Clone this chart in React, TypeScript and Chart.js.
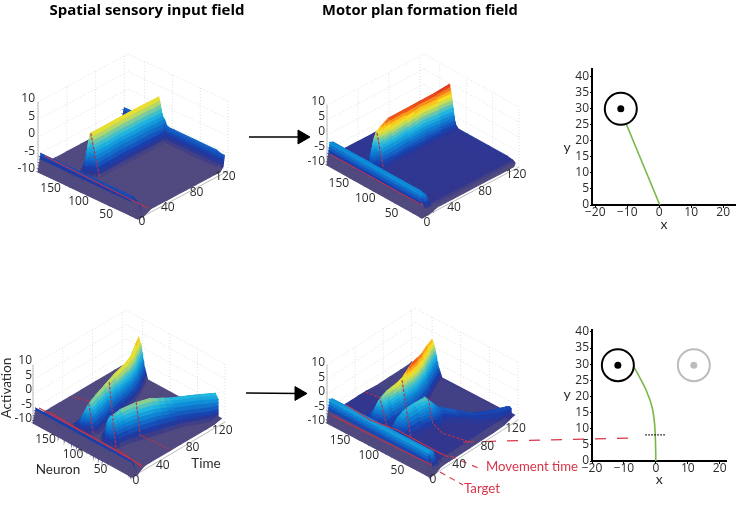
import React, { useEffect, useRef } from "react";
import { Chart, registerables } from "chart.js";

Chart.register(...registerables);

const FONT = '"Open Sans", sans-serif';
const LABEL_FONT = 'Lato, "Open Sans", sans-serif';

// ---- 3D surface data: activation by time (rows) and neuron (columns) ----
const input1Neurons = [0, 5, 15, 50, 90, 100, 104, 108, 112, 116, 120, 125, 130, 180];
const input1Times = [0, 4, 8, 18, 24, 40, 60, 80, 100, 110, 114, 118, 120];
const input1Activation = [
  [-10, -10, -10, -10, -10, -10, -10, -10, -10, -10, -10, -10, -10, -10],
  [-10, -6, -5.2, -5.2, -5.2, -5.2, -5.2, -5.2, -5.2, -5.2, -5.2, -5.2, -5.2, -5.2],
  [-10, -9, -8.5, -8.5, -8.5, -8.5, -8.5, -8.5, -8.5, -8.5, -8.5, -8.5, -8.5, -8.5],
  [-9, -8.6, -8.6, -8.6, -8.6, -8.6, -8.5, -8, -7.5, -7, -7.5, -8, -8.6, -8.6],
  [-9, -8.6, -8.6, -8.6, -8.6, -8.6, -7, -4, 0, 3.2, 0, -5, -8.5, -8.6],
  [-9, -8.6, -8.6, -8.6, -8.6, -8.6, -7, -4, 0, 3.2, 0, -5, -8.5, -8.6],
  [-9, -8.6, -8.6, -8.6, -8.6, -8.6, -6.8, -3.6, 0.3, 3.3, 0.2, -5, -8.5, -8.6],
  [-9, -8.6, -8.6, -8.6, -8.6, -8.6, -6.8, -3.8, 0.2, 3.3, 0.2, -5, -8.5, -8.6],
  [-9, -8.6, -8.6, -8.6, -8.6, -8.6, -6.9, -3.8, 0.2, 3.3, 0.2, -5, -8.5, -8.6],
  [-9, -8.6, -8.6, -8.6, -8.6, -8.6, -7, -4, 0, 3.2, 0, -5, -8.5, -8.6],
  [-9, -8.4, -8.4, -8.4, -8.4, -8.4, -6.8, -4, 0, 3.2, 0, -5, -8.3, -8.4],
  [-8, -7, -7, -7, -7, -7, -6.5, -4, 0, 3.2, 0, -5, -7, -7],
  [-5, -5, -4.5, -4.5, -4.5, -4.5, -4.2, -3, -2, -1, -2, -3.5, -4.5, -4.8],
];

const motor1Neurons = [0, 5, 15, 50, 90, 108, 112, 115, 118, 122, 126, 130, 136, 180];
const motor1Times = [0, 4, 8, 14, 20, 24, 30, 40, 60, 80, 100, 118, 120];
const motor1Activation = [
  [-10, -10, -10, -10, -10, -10, -10, -10, -10, -10, -10, -10, -10, -10],
  [-10, -3.5, -3, -3, -3, -3, -3, -3, -3, -3, -3, -3, -3, -3],
  [-10, -4, -3.5, -3.5, -3.5, -3.5, -3.5, -3.5, -3.5, -3.5, -3.5, -3.5, -3.5, -3.5],
  [-9.5, -8, -7.6, -7.6, -7.6, -7.6, -7.6, -7.6, -7.6, -7.6, -7.6, -7.6, -7.6, -7.6],
  [-9, -7.8, -7.6, -7.6, -7.6, -7.6, -7.2, -6.5, -5, -3, -5, -7, -7.6, -7.6],
  [-9, -7.8, -7.6, -7.6, -7.6, -7.5, -5.5, -2.5, 0.5, 3, 0.5, -3.5, -7.5, -7.6],
  [-9, -7.8, -7.6, -7.6, -7.6, -7.5, -5.5, -2, 1.5, 4.5, 1, -3.5, -7.5, -7.6],
  [-9, -7.8, -7.6, -7.6, -7.6, -7.5, -5.5, -2, 2, 5.8, 2, -3, -7.5, -7.6],
  [-9, -7.8, -7.6, -7.6, -7.6, -7.5, -5, -1.5, 2.5, 5.9, 2.2, -3, -7.5, -7.6],
  [-9, -7.8, -7.6, -7.6, -7.6, -7.5, -5, -1, 3.5, 6, 2.5, -2.5, -7.5, -7.6],
  [-9, -7.8, -7.6, -7.6, -7.6, -7.5, -5.5, -1.5, 3, 6.1, 2.5, -2.5, -7.5, -7.6],
  [-9, -7.8, -7.5, -7.5, -7.5, -7.5, -6, -2, 2.5, 6.4, 3, -2, -7, -7.5],
  [-8, -7.5, -7.2, -7.2, -7.2, -7.2, -6.5, -5, -2, 1, -2, -5, -7, -7.2],
];

// Two-target fields: the ridges drift in neuron space, so each row has its own ridge crest.
const edgeNeurons = [0, 6];
const ridgeSideB = [-22, -12, -5, 0, 4, 9, 16];
const ridgeSideA = [-16, -9, -4, 0, 5, 13, 24];

const input2Times = [0, 4, 8, 14, 18, 24, 35, 50, 65, 85, 100, 110, 120];
const input2CrestB = [66, 66, 66, 66, 66, 72, 69, 62, 55, 47, 35, 25, 11];
const input2CrestA = [110, 110, 110, 110, 110, 108, 112, 117, 121, 126, 134, 142, 150];
const input2Activation = [
  [-10, -10, -10, -10, -10, -10, -10, -10, -10, -10, -10, -10, -10, -10, -10, -10, -10],
  [-10, -5.6, -5.6, -5.6, -5.6, -5.6, -5.6, -5.6, -5.6, -5.6, -5.6, -5.6, -5.6, -5.6, -5.6, -5.6, -5.6],
  [-10, -8.8, -8.8, -8.8, -8.8, -8.8, -8.8, -8.8, -8.8, -8.8, -8.8, -8.8, -8.8, -8.8, -8.8, -8.8, -8.8],
  [-9, -8.5, -8.5, -8.5, -8.5, -8.5, -8.5, -8.5, -8.5, -8.5, -8.5, -8.5, -8.5, -8.5, -8.5, -8.5, -8.5],
  [-8.6, -8.5, -8.5, -7.3, -5.7, -5, -5.7, -7.3, -8.5, -8.5, -6.6, -4.1, -3, -4.1, -6.6, -8.5, -8.5],
  [-8.6, -8.5, -8.5, -5.7, -2.1, -0.5, -2.1, -5.7, -8.5, -8.5, -5.2, -0.9, 1, -0.9, -5.2, -8.5, -8.5],
  [-8.6, -8.5, -8.5, -5.3, -1.1, 0.7, -1.1, -5.3, -8.5, -8.5, -5, -0.5, 1.5, -0.5, -5, -8.5, -8.5],
  [-8.6, -8.5, -8.5, -5, -0.5, 1.5, -0.5, -5, -8.5, -8.5, -4.8, -0.1, 2, -0.1, -4.8, -8.5, -8.5],
  [-8.6, -8.5, -8.5, -5, -0.5, 1.5, -0.5, -5, -8.5, -8.5, -4.5, 0.5, 2.8, 0.5, -4.5, -8.5, -8.5],
  [-8.6, -8.5, -8.5, -5.7, -2.2, -0.6, -2.2, -5.7, -8.5, -8.5, -4.3, 1, 3.4, 1, -4.3, -8.5, -8.5],
  [-8.6, -8.5, -8.5, -5.8, -2.4, -0.9, -2.4, -5.8, -8.5, -8.5, -4.3, 1, 3.4, 1, -4.3, -8.5, -8.5],
  [-8.6, -8.5, -8.5, -5.8, -2.4, -0.9, -2.4, -5.8, -8.5, -8.5, -4.2, 1.3, 3.8, 1.3, -4.2, -8.5, -8.5],
  [-8, -8, -8, -5.7, -2.1, -0.5, -2.1, -5.7, -8.5, -8.5, -4, 1.7, 4.3, 1.7, -4, -8.5, -8.5],
];

const motor2Times = [0, 4, 8, 14, 20, 27, 35, 45, 56, 70, 90, 105, 118, 120];
const motor2CrestB = [88, 88, 88, 88, 88, 86, 86, 84, 78, 73, 36, 20, 10, 8];
const motor2CrestA = [122, 122, 122, 122, 122, 118, 118, 115, 116, 118, 126, 135, 142, 143];
const motor2Activation = [
  [-10, -10, -10, -10, -10, -10, -10, -10, -10, -10, -10, -10, -10, -10, -10, -10, -10],
  [-10, -2.5, -2.5, -2.5, -2.5, -2.5, -2.5, -2.5, -2.5, -2.5, -2.5, -2.5, -2.5, -2.5, -2.5, -2.5, -2.5],
  [-10, -3, -3, -3, -3, -3, -3, -3, -3, -3, -3, -3, -3, -3, -3, -3, -3],
  [-9, -7.7, -7.7, -7.7, -7.7, -7.7, -7.7, -7.7, -7.7, -7.7, -7.7, -7.7, -7.7, -7.7, -7.7, -7.7, -7.7],
  [-8.8, -7.7, -7.7, -7.3, -6.4, -6, -6.4, -7.3, -7.7, -7.7, -7.3, -6.4, -6, -6.4, -7.3, -7.7, -7.7],
  [-8.8, -7.7, -7.7, -5.9, -3.2, -2, -3.2, -5.9, -7.7, -7.7, -4.85, -0.8, 1, -0.8, -4.85, -7.7, -7.7],
  [-8.8, -7.7, -7.7, -5.55, -2.4, -1, -2.4, -5.55, -7.7, -7.7, -4.5, 0, 2, 0, -4.5, -7.7, -7.7],
  [-8.8, -7.7, -7.7, -5.4, -2, -0.5, -2, -5.4, -7.7, -7.7, -4.15, 0.8, 3, 0.8, -4.15, -7.7, -7.7],
  [-8.8, -7.7, -7.7, -5, -1.2, 0.5, -1.2, -5, -7.7, -7.8, -3.9, 1.3, 3.6, 1.3, -3.9, -7.8, -7.8],
  [-8.8, -7.7, -7.7, -6.7, -5.1, -4.4, -5.1, -6.7, -7.9, -8.2, -3.1, 3.2, 6, 3.2, -3.1, -8.2, -8.2],
  [-8.8, -7.7, -7.7, -7.3, -6.4, -6, -6.4, -7.3, -8, -8.2, -3.45, 2.4, 5, 2.4, -3.45, -8.2, -8.2],
  [-8.6, -7.9, -7.9, -7.2, -6.2, -5.8, -6.2, -7.2, -8, -8.2, -3.6, 2, 4.5, 2, -3.6, -8.2, -8.2],
  [-7.5, -7.5, -7.5, -7.1, -6, -5.5, -6, -7.1, -8, -8.2, -3.8, 1.6, 4, 1.6, -3.8, -8.2, -8.2],
  [-7.5, -7.5, -7.5, -7.1, -6, -5.5, -6, -7.1, -7.8, -7.8, -4.2, 0.8, 3, 0.8, -4.2, -7.8, -7.8],
];

// Red slice traces, as [neuron, time, activation]
type P3 = [number, number, number];
const input1Curtain: P3[] = [[175, 5, -5.5], [0, 14, -8.5]];
const input1Slice: P3[] = [[116, 24, 3.2], [100, 24, -8.5]];
const motor1Curtain: P3[] = [[177, 2.5, -6.5], [3, 3, -6.5]];
const motor1Slice: P3[] = [[122, 25, 3], [110, 25, -7.6]];
const input2Lines: P3[][] = [
  [[175, 4.5, -5], [17, 14, -8], [0, 13, -8.5]],
  [[172, 17, -8], [115, 15, -8], [0, 13, -8]],
  [[174, 50, -8], [102, 17, 3], [95, 18, -8]],
  [[120, 58, 1.5], [52, 17, -8], [0, 12, -8]],
  [[60, 50, 2], [50, 48, -8], [0, 50, -8]],
];
const motor2Lines: P3[][] = [
  [[174, 2, -7], [3, 5, -7]],
  [[180, 27, -8], [134, 24, -8], [93, 29, -8], [22, 28, -8], [4, 29, -8]],
  [[180, 55, -8], [121, 27, 0.5], [110, 28, -8]],
  [[108, 48, 4.7], [68, 28, -8]],
  [[72, 56, 0.9], [69, 60, -8], [45, 54, -8], [9, 60, -8]],
];

const neuronTicks = [150, 100, 50];
const timeTicks = [0, 40, 80, 120];
const activationTicks = [-10, -5, 0, 5, 10];
const wallNeurons = [0, 50, 100, 150];

// ---- Right-hand trajectory plots ----
const straightX = [-10.2, 0.2];
const straightY = [25, 0];
const curveX = [0, -0.1, -0.4, -1.2, -2.8, -4.9, -6.9];
const curveY = [0, 5.4, 11.6, 16.8, 21.4, 25.6, 29.2];
const xTickValues = [-20, -10, 0, 10, 20];
const yTickValues = [0, 5, 10, 15, 20, 25, 30, 35, 40];

const NMAX = 180;
const TMAX = 125;

const COLOR_STOPS: [number, number, number, number][] = [
  [-10, 79, 74, 125], [-8.4, 80, 74, 128], [-7.7, 50, 54, 142], [-6.5, 25, 60, 170],
  [-5, 20, 95, 195], [-3, 15, 140, 215], [-1, 35, 185, 225], [0.5, 110, 200, 170],
  [2, 200, 220, 85], [3.2, 250, 225, 30], [4.5, 250, 150, 30], [5.5, 235, 80, 30], [6.5, 205, 30, 35],
];

function colorOf(z: number) {
  const s = COLOR_STOPS;
  if (z <= s[0][0]) return `rgb(${s[0][1]},${s[0][2]},${s[0][3]})`;
  for (let i = 1; i < s.length; i++) {
    if (z <= s[i][0]) {
      const f = (z - s[i - 1][0]) / (s[i][0] - s[i - 1][0]);
      const c = [1, 2, 3].map((k) => Math.round(s[i - 1][k] + f * (s[i][k] - s[i - 1][k])));
      return `rgb(${c[0]},${c[1]},${c[2]})`;
    }
  }
  const l = s[s.length - 1];
  return `rgb(${l[1]},${l[2]},${l[3]})`;
}

// the steep front face is lit differently: slate below the red trace, blue above it
const faceLevel = (z: number) => (z < -6.5 ? -9 : -7 + (z + 6.5) * 1.33);

type Panel = {
  F: number[]; L: number[]; R: number[]; zStep: number;
  neuronRows: number[][]; times: number[]; z: number[][];
  solid: P3[][]; dashed: P3[][];
  nOff: number[]; tOff: number[]; zOff: number[]; zeroOff: number[];
};

const sameRows = (row: number[], count: number) => Array.from({ length: count }, () => row);
const crestRows = (crestB: number[], crestA: number[]) =>
  crestB.map((b, i) => [
    ...edgeNeurons,
    ...ridgeSideB.map((o) => Math.max(edgeNeurons[1], b + o)),
    ...ridgeSideA.map((o) => crestA[i] + o),
    NMAX,
  ]);

const panels: Panel[] = [
  { F: [138, 219], L: [38, 172], R: [228, 171], zStep: 3.5, neuronRows: sameRows(input1Neurons, input1Times.length), times: input1Times, z: input1Activation,
    solid: [input1Curtain], dashed: [input1Slice], nOff: [-4, 9], tOff: [1, 4], zOff: [-3, -3], zeroOff: [4, 3] },
  { F: [422, 218], L: [327, 165], R: [519, 167], zStep: 3.0, neuronRows: sameRows(motor1Neurons, motor1Times.length), times: motor1Times, z: motor1Activation,
    solid: [motor1Curtain], dashed: [motor1Slice], nOff: [-4, 10], tOff: [1, 6], zOff: [-2, -3], zeroOff: [5, 5] },
  { F: [132, 477], L: [33, 423], R: [225, 422], zStep: 2.9, neuronRows: crestRows(input2CrestB, input2CrestA), times: input2Times, z: input2Activation,
    solid: [input2Lines[0], input2Lines[1]], dashed: input2Lines.slice(2), nOff: [-4, 8], tOff: [1, 6], zOff: [-1, -4], zeroOff: [4, 4] },
  { F: [430, 477], L: [327, 423], R: [518, 420], zStep: 2.9, neuronRows: crestRows(motor2CrestB, motor2CrestA), times: motor2Times, z: motor2Activation,
    solid: [motor2Lines[0], motor2Lines[1]], dashed: motor2Lines.slice(2), nOff: [-4, 9], tOff: [1, 6], zOff: [-2, -2], zeroOff: [3, 3] },
];

function project(p: Panel, n: number, t: number, z: number) {
  const a = n / NMAX, b = t / TMAX;
  return {
    x: p.F[0] + a * (p.L[0] - p.F[0]) + b * (p.R[0] - p.F[0]),
    y: p.F[1] + a * (p.L[1] - p.F[1]) + b * (p.R[1] - p.F[1]) - (z + 10) * p.zStep,
  };
}

function lineSet(data: { x: number; y: number }[], color: string, width: number, dash: number[] = []) {
  return { data, showLine: true, fill: false, borderColor: color, borderWidth: width, borderDash: dash, pointRadius: 0, tension: 0 };
}

function panelDatasets(p: Panel) {
  const back: any[] = [];
  const wall = "#d9d9d9";
  const dot = [1, 2];
  for (const t of timeTicks) back.push(lineSet([project(p, NMAX, t, -10), project(p, NMAX, t, 10)], wall, 0.8, dot));
  for (const n of wallNeurons) back.push(lineSet([project(p, n, TMAX, -10), project(p, n, TMAX, 10)], wall, 0.8, dot));
  for (const z of activationTicks) {
    back.push(lineSet([project(p, NMAX, 0, z), project(p, NMAX, TMAX, z)], wall, 0.8, dot));
    back.push(lineSet([project(p, NMAX, TMAX, z), project(p, 0, TMAX, z)], wall, 0.8, dot));
  }
  back.push(lineSet([project(p, NMAX, 0, -10), project(p, NMAX, 0, 10)], "#aaaaaa", 0.8));
  back.push(lineSet([project(p, 0, 0, -10), project(p, 0, TMAX, -10)], "#aaaaaa", 0.8));
  back.push(lineSet([project(p, 0, 0, -10), project(p, NMAX, 0, -10)], "#aaaaaa", 0.8));

  // surface, back to front
  const cols = p.z[0].length;
  for (let i = p.times.length - 2; i >= 0; i--) {
    for (let j = cols - 2; j >= 0; j--) {
      const t0 = p.times[i], t1 = p.times[i + 1];
      const n00 = p.neuronRows[i][j], n01 = p.neuronRows[i][j + 1], n10 = p.neuronRows[i + 1][j], n11 = p.neuronRows[i + 1][j + 1];
      const a = p.z[i][j], b = p.z[i][j + 1], c = p.z[i + 1][j], d = p.z[i + 1][j + 1];
      const subN = Math.min(6, Math.max(1, Math.ceil(Math.max(Math.abs(a - b), Math.abs(c - d)) / 1.2)));
      const subT = Math.min(8, Math.max(1, Math.ceil(Math.max(Math.abs(a - c), Math.abs(b - d)) / 0.8)));
      const mix = (q00: number, q01: number, q10: number, q11: number, u: number, v: number) =>
        (1 - v) * ((1 - u) * q00 + u * q01) + v * ((1 - u) * q10 + u * q11);
      const isFace = t1 <= 4;
      for (let vi = subT - 1; vi >= 0; vi--) {
        for (let ui = subN - 1; ui >= 0; ui--) {
          const u0 = ui / subN, u1 = (ui + 1) / subN, v0 = vi / subT, v1 = (vi + 1) / subT;
          const zAt = (u: number, v: number) => mix(a, b, c, d, u, v);
          const pt = (u: number, v: number) => project(p, mix(n00, n01, n10, n11, u, v), t0 + v * (t1 - t0), zAt(u, v));
          const avg = (zAt(u0, v0) + zAt(u1, v0) + zAt(u0, v1) + zAt(u1, v1)) / 4;
          const col = colorOf(isFace ? faceLevel(avg) : avg);
          const first = pt(u0, v0);
          back.push({
            data: [first, pt(u1, v0), pt(u1, v1), pt(u0, v1), first],
            showLine: true, fill: "shape", backgroundColor: col, borderColor: col, borderWidth: 1.1, pointRadius: 0, tension: 0,
          });
        }
      }
    }
  }
  for (const line of p.solid) back.push(lineSet(line.map(([n, t, z]) => project(p, n, t, z)), "#c8324a", 1.1));
  for (const line of p.dashed) back.push(lineSet(line.map(([n, t, z]) => project(p, n, t, z)), "#b8334a", 1.1, [3, 1.5]));
  return back;
}

const arrowXs = [[249, 302], [246, 299]];
const arrowYs = [[137, 137], [393, 393.5]];
const redDashX = [463, 632];
const redDashY = [442, 438];
const movementLeaderX = [450, 483];
const movementLeaderY = [456, 470];
const targetLeaderX = [440, 463];
const targetLeaderY = [472, 485];

function buildFigureDatasets() {
  const all: any[] = [];
  for (const p of panels) all.push(...panelDatasets(p));
  arrowXs.forEach((xs, k) => {
    const ys = arrowYs[k];
    all.push(lineSet([{ x: xs[0], y: ys[0] }, { x: xs[1], y: ys[1] }], "#000", 1.6));
    all.push({ data: [{ x: xs[1], y: ys[1] }], pointStyle: "triangle", rotation: 90, pointRadius: 8, backgroundColor: "#000", borderColor: "#000" });
  });
  const red = "#d8354a";
  all.push(lineSet([{ x: redDashX[0], y: redDashY[0] }, { x: redDashX[1], y: redDashY[1] }], red, 1.2, [11, 11]));
  all.push(lineSet([{ x: movementLeaderX[0], y: movementLeaderY[0] }, { x: movementLeaderX[1], y: movementLeaderY[1] }], red, 1.1, [6, 6]));
  all.push(lineSet([{ x: targetLeaderX[0], y: targetLeaderY[0] }, { x: targetLeaderX[1], y: targetLeaderY[1] }], red, 1.1, [6, 5]));
  return all.reverse();
}

const tickLabelPlugin = {
  id: "tickLabels3d",
  afterDraw(chart: any) {
    const { ctx, scales } = chart;
    ctx.save();
    ctx.font = `12px ${FONT}`;
    ctx.fillStyle = "#2b2b2b";
    ctx.textBaseline = "middle";
    const put = (txt: string, pos: { x: number; y: number }, off: number[], align: string) => {
      ctx.textAlign = align;
      ctx.fillText(txt, scales.x.getPixelForValue(pos.x) + off[0], scales.y.getPixelForValue(pos.y) + off[1]);
    };
    for (const p of panels) {
      for (const n of neuronTicks) put(String(n), project(p, n, 0, -10), p.nOff, "center");
      for (const t of timeTicks) {
        if (t === 0) put("0", project(p, 0, 0, -10), p.zeroOff, "center");
        else put(String(t), project(p, 0, t, -10), p.tOff, "center");
      }
      for (const z of activationTicks) put(String(z), project(p, NMAX, 0, z), p.zOff, "right");
    }
    ctx.restore();
  },
};

function xyOptions(xMin: number, xMax: number, yMax: number, topPad: number, rightPad: number, bottomHeight: number, titlePad: number, yTitleValue: number) {
  const tickFont = { family: FONT, size: 12, lineHeight: 1 };
  return {
    type: "scatter" as const,
    plugins: [{
      id: "yTitle",
      afterDraw(chart: any) {
        const { ctx, scales } = chart;
        ctx.save();
        ctx.font = `14px ${LABEL_FONT}`;
        ctx.fillStyle = "#2b2b2b";
        ctx.textAlign = "center";
        ctx.textBaseline = "middle";
        ctx.fillText("y", 17, scales.y.getPixelForValue(yTitleValue));
        ctx.restore();
      },
    }],
    options: {
      animation: false as const, responsive: false, devicePixelRatio: 1,
      layout: { autoPadding: false, padding: { top: topPad, left: 0, right: rightPad, bottom: 0 } },
      plugins: { legend: { display: false }, tooltip: { enabled: false }, title: { display: false } },
      scales: {
        x: {
          type: "linear", min: xMin, max: xMax,
          afterFit: (s: any) => { s.height = bottomHeight; },
          afterBuildTicks: (s: any) => { s.ticks = xTickValues.map((value) => ({ value })); },
          grid: { drawOnChartArea: false, tickLength: 3, color: "#000" },
          border: { color: "#000", width: 2 },
          ticks: { font: tickFont, color: "#2b2b2b", padding: -1, maxRotation: 0, autoSkip: false, callback: (v: number) => (v < 0 ? "\u2212" + Math.abs(v) : String(v)) },
          title: { display: true, text: "x", color: "#2b2b2b", font: { family: LABEL_FONT, size: 14 }, padding: { top: 0, bottom: titlePad } },
        },
        y: {
          type: "linear", min: 0, max: yMax,
          afterFit: (s: any) => { s.width = 42; },
          afterBuildTicks: (s: any) => { s.ticks = yTickValues.map((value) => ({ value })); },
          grid: { drawOnChartArea: false, tickLength: 2, color: "#000" },
          border: { color: "#000", width: 2 },
          ticks: { font: tickFont, color: "#2b2b2b", padding: 1, autoSkip: false },
        },
      },
    },
  };
}

const target = (x: number, y: number, color: string) => [
  { data: [{ x, y }], pointRadius: 3.5, backgroundColor: color, borderColor: color, borderWidth: 0 },
  { data: [{ x, y }], pointRadius: 16, backgroundColor: "transparent", borderColor: color, borderWidth: 2 },
];

const zip = (xs: number[], ys: number[]) => xs.map((x, i) => ({ x, y: ys[i] }));

const textStyle: React.CSSProperties = { position: "absolute", color: "#2b2b2b", whiteSpace: "nowrap", lineHeight: 1, transform: "translate(-50%,-50%)" };

function Label({ x, y, size, text, color, bold, rotate }: { x: number; y: number; size: number; text: string; color?: string; bold?: boolean; rotate?: boolean }) {
  return (
    <div style={{ ...textStyle, left: x, top: y, fontSize: size, fontFamily: bold ? FONT : LABEL_FONT, color: color ?? "#2b2b2b", fontWeight: bold ? 700 : 400, transform: `translate(-50%,-50%)${rotate ? " rotate(-90deg)" : ""}` }}>
      {text}
    </div>
  );
}

export default function App() {
  const mainRef = useRef<HTMLCanvasElement>(null);
  const topRef = useRef<HTMLCanvasElement>(null);
  const bottomRef = useRef<HTMLCanvasElement>(null);

  useEffect(() => {
    const main = new Chart(mainRef.current!, {
      type: "scatter",
      data: { datasets: buildFigureDatasets() },
      plugins: [tickLabelPlugin],
      options: {
        animation: false, responsive: false, devicePixelRatio: 1,
        layout: { autoPadding: false, padding: 0 },
        plugins: { legend: { display: false }, tooltip: { enabled: false } },
        scales: {
          x: { type: "linear", min: 0, max: 736, display: false },
          y: { type: "linear", min: 0, max: 506, reverse: true, display: false },
        },
      },
    } as any);

    const topCfg = xyOptions(-21, 24, 42.4, 19, 0, 35, 7.5, 18);
    const top = new Chart(topRef.current!, {
      ...topCfg,
      data: {
        datasets: [
          ...target(-12, 30, "#000"),
          { data: zip(straightX, straightY), showLine: true, borderColor: "#7ab648", borderWidth: 1.6, pointRadius: 0 },
        ],
      },
    } as any);

    const bottomCfg = xyOptions(-20, 22.2, 40.6, 20, 9.3, 39, 12, 20.5);
    const bottomChart = new Chart(bottomRef.current!, {
      ...bottomCfg,
      data: {
        datasets: [
          ...target(-11.9, 29.7, "#000"),
          ...target(11.9, 29.7, "#bcbcbc"),
          { data: [{ x: -3.3, y: 8.1 }, { x: 2.9, y: 8.1 }], showLine: true, borderColor: "#000", borderWidth: 1.3, borderDash: [1.5, 1.5], pointRadius: 0 },
          { data: zip(curveX, curveY), showLine: true, borderColor: "#7ab648", borderWidth: 1.6, pointRadius: 0, tension: 0.3 },
        ],
      },
    } as any);

    return () => { main.destroy(); top.destroy(); bottomChart.destroy(); };
  }, []);

  return (
    <div style={{ position: "absolute", left: 0, top: 0, width: 736, height: 506, overflow: "hidden", background: "#fff" }}>
      <canvas ref={mainRef} width={736} height={506} style={{ position: "absolute", left: 0, top: 0 }} />
      <canvas ref={topRef} width={186} height={190} style={{ position: "absolute", left: 550, top: 50 }} />
      <canvas ref={bottomRef} width={186} height={190} style={{ position: "absolute", left: 550, top: 310 }} />
      <Label x={147} y={9} size={15} bold text="Spatial sensory input field" color="#000" />
      <Label x={420} y={9} size={14.7} bold text="Motor plan formation field" color="#000" />
      <Label x={7} y={388} size={13.5} rotate text="Activation" />
      <Label x={58} y={470} size={13.5} text="Neuron" />
      <Label x={206} y={464} size={13.5} text="Time" />
      <Label x={532} y={467} size={13.2} color="#d8354a" text="Movement time" />
      <Label x={482} y={489} size={13.2} color="#d8354a" text="Target" />
    </div>
  );
}
